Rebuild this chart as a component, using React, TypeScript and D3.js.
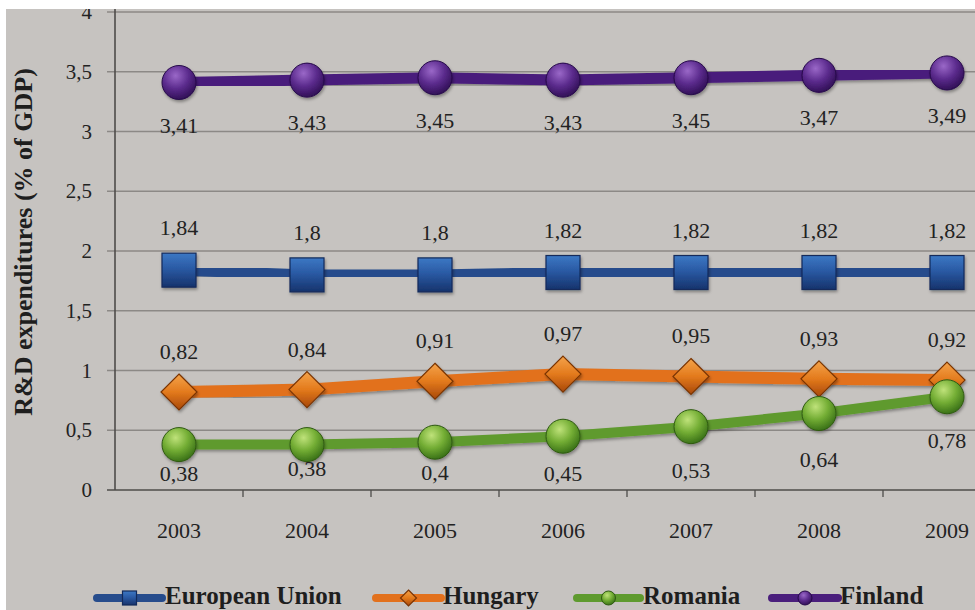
import React from "react";
import * as d3 from "d3";

// R&D expenditures as a share of GDP, 2003–2009
const years = ["2003", "2004", "2005", "2006", "2007", "2008", "2009"];
const europeanUnion = [1.84, 1.8, 1.8, 1.82, 1.82, 1.82, 1.82];
const hungary = [0.82, 0.84, 0.91, 0.97, 0.95, 0.93, 0.92];
const romania = [0.38, 0.38, 0.4, 0.45, 0.53, 0.64, 0.78];
const finland = [3.41, 3.43, 3.45, 3.43, 3.45, 3.47, 3.49];
const yTicks = [0, 0.5, 1, 1.5, 2, 2.5, 3, 3.5, 4];

// vertical nudges for the Romania value labels (below the markers)
const romaniaLabelDy = [36, 31, 38, 45, 51, 53, 51];

const W = 975;
const H = 610;
const FONT = "'Liberation Serif', 'DejaVu Serif', serif";
const BG = "#c6c3c0";

const fmt = (v: number) => String(v).replace(".", ",");

const x = d3.scaleBand<string>().domain(years).range([115, 115 + 7 * 128]).padding(0);
const y = d3.scaleLinear().domain([0, 4]).range([490, 12]);
const cx = (yr: string) => (x(yr) ?? 0) + x.bandwidth() / 2;

type Shape = "square" | "diamond" | "circle";
interface Series {
  name: string;
  values: number[];
  color: string;
  width: number;
  shape: Shape;
  fill: string;
  stroke: string;
}

const series: Series[] = [
  { name: "European Union", values: europeanUnion, color: "#264c8c", width: 11, shape: "square", fill: "url(#gEU)", stroke: "#122a5a" },
  { name: "Hungary", values: hungary, color: "#e2711d", width: 12, shape: "diamond", fill: "url(#gHU)", stroke: "#7a3405" },
  { name: "Romania", values: romania, color: "#5e9a2e", width: 10, shape: "circle", fill: "url(#gRO)", stroke: "#2f5a12" },
  { name: "Finland", values: finland, color: "#4a1e7c", width: 11, shape: "circle", fill: "url(#gFI)", stroke: "#26084a" },
];

function Marker({ shape, x0, y0, s, fill, stroke }: { shape: Shape; x0: number; y0: number; s: number; fill: string; stroke: string }) {
  if (shape === "square")
    return <rect x={x0 - s} y={y0 - s} width={2 * s} height={2 * s} fill={fill} stroke={stroke} strokeWidth={1.2} />;
  if (shape === "diamond")
    return (
      <path
        d={`M${x0},${y0 - s}L${x0 + s},${y0}L${x0},${y0 + s}L${x0 - s},${y0}Z`}
        fill={fill}
        stroke={stroke}
        strokeWidth={1.2}
      />
    );
  return <circle cx={x0} cy={y0} r={s} fill={fill} stroke={stroke} strokeWidth={1} />;
}

function labelY(si: number, i: number, v: number) {
  const my = y(v);
  if (si === 0) return my - 35;
  if (si === 1) return my - 33;
  if (si === 2) return my + romaniaLabelDy[i];
  return my + 50;
}

const legendItems = [
  { s: 0, x1: 97, x2: 162, tx: 165 },
  { s: 1, x1: 376, x2: 441, tx: 443 },
  { s: 2, x1: 577, x2: 640, tx: 643 },
  { s: 3, x1: 772, x2: 838, tx: 840 },
];

export default function App() {
  const line = d3
    .line<number>()
    .x((_, i) => cx(years[i]))
    .y((d) => y(d));

  return (
    <svg width={W} height={H} style={{ position: "absolute", left: 0, top: 0 }} fontFamily={FONT}>
      <defs>
        <clipPath id="area">
          <rect x={6} y={9} width={W - 6} height={H - 9} />
        </clipPath>
        <filter id="sh" x="-30%" y="-30%" width="160%" height="160%">
          <feDropShadow dx="1" dy="2" stdDeviation="1.6" floodColor="#000" floodOpacity="0.35" />
        </filter>
        <linearGradient id="gEU" x1="0" y1="0" x2="0" y2="1">
          <stop offset="0" stopColor="#3c78c4" />
          <stop offset="0.45" stopColor="#2a5aa4" />
          <stop offset="1" stopColor="#16336c" />
        </linearGradient>
        <linearGradient id="gHU" x1="0" y1="0" x2="0" y2="1">
          <stop offset="0" stopColor="#f4a34a" />
          <stop offset="0.5" stopColor="#e37a1c" />
          <stop offset="1" stopColor="#a8480a" />
        </linearGradient>
        <radialGradient id="gRO" cx="0.4" cy="0.3" r="0.75">
          <stop offset="0" stopColor="#bfe27a" />
          <stop offset="0.5" stopColor="#73ad34" />
          <stop offset="1" stopColor="#336a14" />
        </radialGradient>
        <radialGradient id="gFI" cx="0.4" cy="0.3" r="0.75">
          <stop offset="0" stopColor="#9a68c8" />
          <stop offset="0.5" stopColor="#5c2c8e" />
          <stop offset="1" stopColor="#2c0c50" />
        </radialGradient>
      </defs>

      <rect x={0} y={0} width={W} height={H} fill="#ffffff" />
      <g clipPath="url(#area)">
        <rect x={0} y={0} width={W} height={H} fill={BG} />

        {/* gridlines and y ticks */}
        {yTicks.map((t) => (
          <g key={t}>
            <line x1={107} x2={W} y1={y(t)} y2={y(t)} stroke={t === 0 ? "#4e4c4a" : "#8c8986"} strokeWidth={t === 0 ? 1.6 : 1.3} />
            <text x={92} y={y(t) + 7} textAnchor="end" fontSize={21} fill="#222">
              {fmt(t)}
            </text>
          </g>
        ))}

        {/* y axis */}
        <line x1={115} x2={115} y1={0} y2={490} stroke="#4e4c4a" strokeWidth={1.6} />

        {/* x ticks between categories */}
        {years.map((yr) => (
          <line key={yr} x1={(x(yr) ?? 0) + x.bandwidth()} x2={(x(yr) ?? 0) + x.bandwidth()} y1={490} y2={497} stroke="#4e4c4a" strokeWidth={1.3} />
        ))}
        {years.map((yr) => (
          <text key={yr} x={cx(yr)} y={538} textAnchor="middle" fontSize={22} fill="#222">
            {yr}
          </text>
        ))}

        {/* axis title */}
        <text
          transform={`translate(32,${242}) rotate(-90)`}
          textAnchor="middle"
          fontSize={26}
          fontWeight="bold"
          fill="#1e1e1e"
        >
          R&amp;D expenditures (% of GDP)
        </text>

        {/* series */}
        {series.map((s) => (
          <g key={s.name}>
            <path d={line(s.values) ?? ""} fill="none" stroke={s.color} strokeWidth={s.width} strokeLinejoin="round" filter="url(#sh)" />
            {s.values.map((v, i) => (
              <g key={i} filter="url(#sh)">
                <Marker shape={s.shape} x0={cx(years[i])} y0={y(v)} s={s.shape === "diamond" ? 18 : 17} fill={s.fill} stroke={s.stroke} />
              </g>
            ))}
          </g>
        ))}

        {/* value labels */}
        {series.map((s, si) =>
          s.values.map((v, i) => (
            <text key={`${si}-${i}`} x={cx(years[i])} y={labelY(si, i, v)} textAnchor="middle" fontSize={22} fill="#222">
              {fmt(v)}
            </text>
          ))
        )}

        {/* legend */}
        {legendItems.map((it) => {
          const s = series[it.s];
          const mx = (it.x1 + it.x2) / 2;
          return (
            <g key={s.name}>
              <line x1={it.x1} x2={it.x2} y1={598} y2={598} stroke={s.color} strokeWidth={8} strokeLinecap="round" />
              <Marker shape={s.shape} x0={mx} y0={598} s={s.shape === "diamond" ? 8 : 7} fill={s.fill} stroke={s.stroke} />
              <text x={it.tx} y={604} fontSize={25} fontWeight="bold" fill="#1e1e1e">
                {s.name}
              </text>
            </g>
          );
        })}
      </g>
    </svg>
  );
}
